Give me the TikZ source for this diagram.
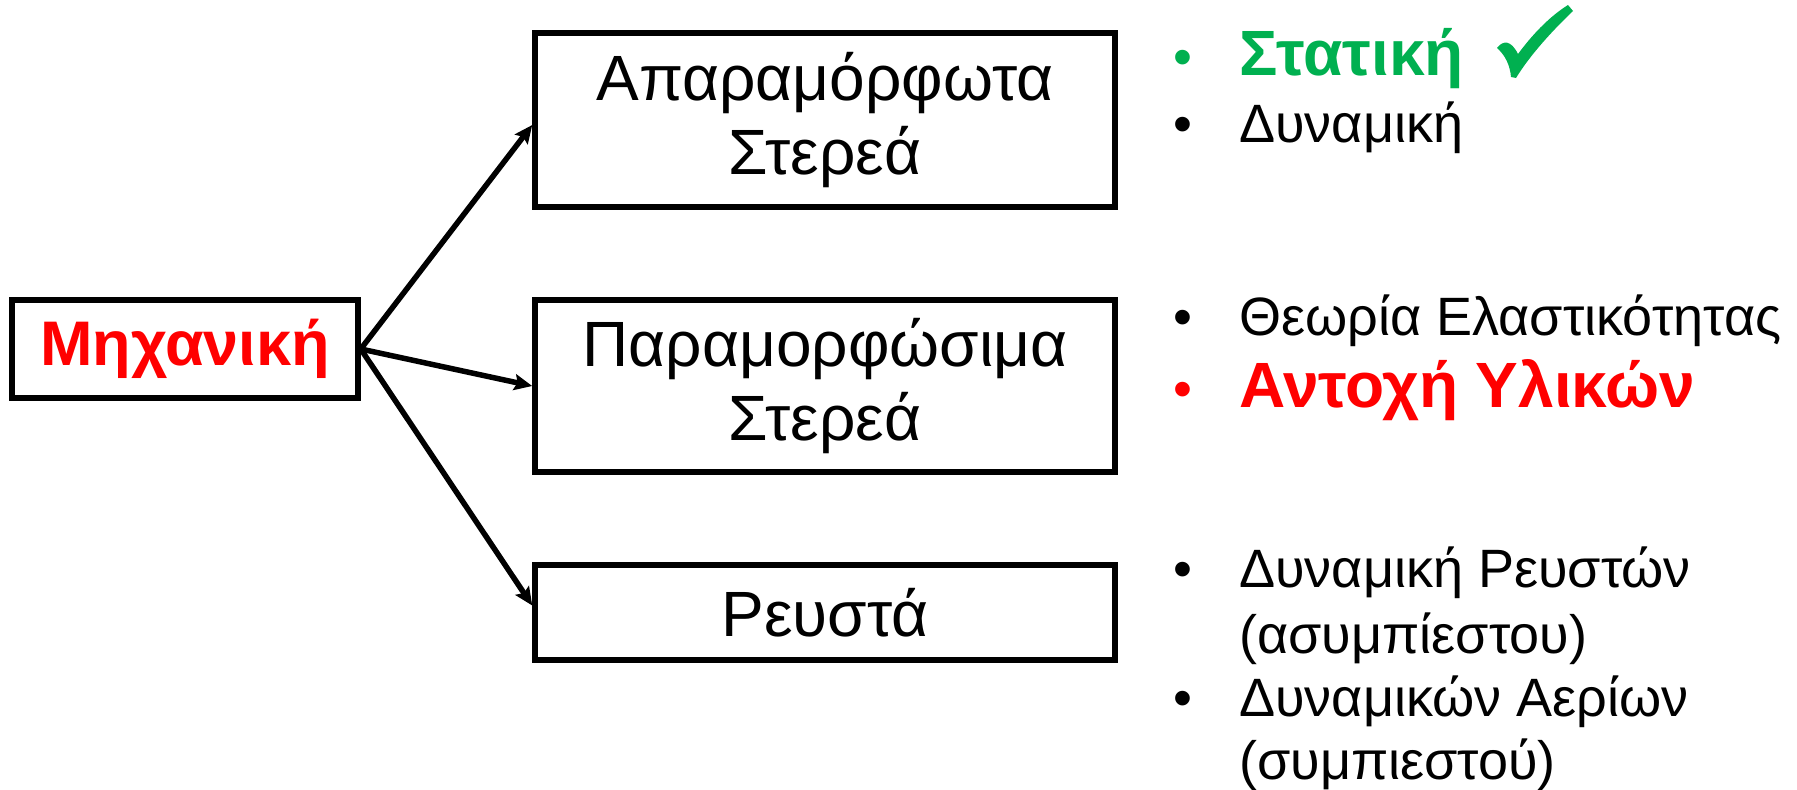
\documentclass[tikz,border=0pt]{standalone}
\usepackage{fontspec}
\setmainfont{Liberation Sans}
\usetikzlibrary{arrows.meta}
\definecolor{okgreen}{HTML}{00B050}
\definecolor{hotred}{HTML}{FF0000}
\tikzset{
  box/.style={draw, line width=5.5pt, inner sep=0pt, align=center,
    font=\fontsize{64}{74}\selectfont},
  link/.style={line width=5.5pt, -{Stealth[length=18pt,width=16pt,inset=3pt]}},
  item/.style={anchor=base west, inner sep=0pt, font=\fontsize{54}{60}\selectfont},
  bigitem/.style={anchor=base west, inner sep=0pt, font=\fontsize{64}{70}\selectfont\bfseries},
  dot/.style={anchor=base west, inner sep=0pt, font=\fontsize{54}{60}\selectfont},
}
\begin{document}
\begin{tikzpicture}[x=1pt, y=-1pt]
  \useasboundingbox (0,0) rectangle (1797,790);

  % main box and its three branches
  \node[box, minimum width=346pt, minimum height=98pt, text=hotred,
        font=\fontsize{63}{66}\selectfont\bfseries] (mech) at (185,349) {Μηχανική};
  \node[box, minimum width=580pt, minimum height=174pt] (rigid) at (825,120) {Απαραμόρφωτα\\Στερεά};
  \node[box, minimum width=580pt, minimum height=172pt] (deform) at (825,386) {Παραμορφώσιμα\\Στερεά};
  \node[box, minimum width=580pt, minimum height=95pt] (fluid) at (825,612.5) {Ρευστά};

  \draw[link] (mech.east) -- ([yshift=-5pt]rigid.west);
  \draw[link] (mech.east) -- (deform.west);
  \draw[link] (mech.east) -- ([yshift=7pt]fluid.west);

  % subjects of each branch
  \node[dot, text=okgreen] (b1) at (1173,75) {•};
  \node[bigitem, text=okgreen] (t1) at (1239,75) {Στατική};
  % tick after the first subject
  \fill[okgreen] (1497,48) .. controls (1503,40) and (1511,40) .. (1518,54)
    .. controls (1535,31) and (1552,15) .. (1568,5) -- (1573,11)
    .. controls (1553,30) and (1530,55) .. (1516,78) -- (1511,77)
    .. controls (1510,65) and (1505,55) .. cycle;
  \node[dot] (b2) at (1173,142) {•};
  \node[item] (t2) at (1239,142) {Δυναμική};

  \node[dot] (b3) at (1173,335) {•};
  \node[item] (t3) at (1239,335) {Θεωρία Ελαστικότητας};
  \node[dot, text=hotred] (b4) at (1173,407) {•};
  \node[bigitem, text=hotred] (t4) at (1239,407) {Αντοχή Υλικών};

  \node[dot] (b5) at (1173,587) {•};
  \node[item] (t5) at (1239,587) {Δυναμική Ρευστών};
  \node[item] (t6) at (1239,653) {(ασυμπίεστου)};
  \node[dot] (b7) at (1173,716) {•};
  \node[item] (t7) at (1239,716) {Δυναμικών Αερίων};
  \node[item] (t8) at (1239,779) {(συμπιεστού)};
\end{tikzpicture}
\end{document}
